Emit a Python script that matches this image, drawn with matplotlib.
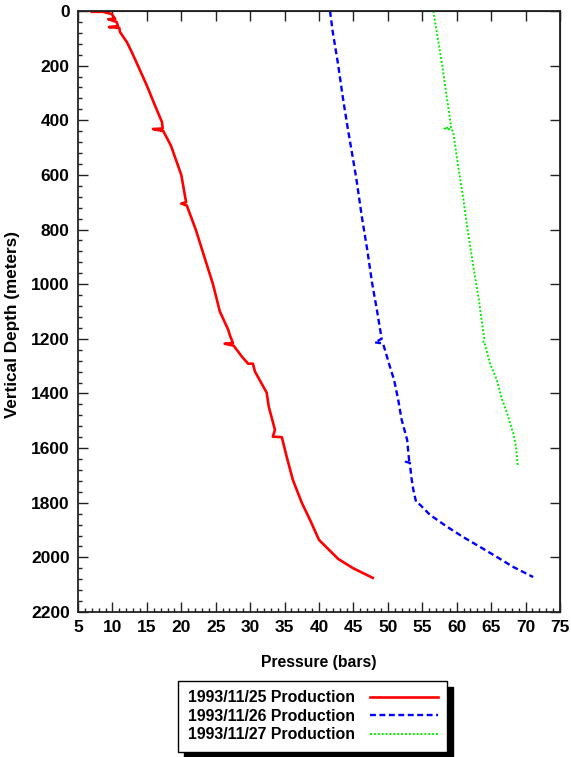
import matplotlib
matplotlib.use("Agg")
import matplotlib.pyplot as plt
from matplotlib.ticker import MultipleLocator

plt.rcParams['font.family'] = ['Liberation Sans', 'DejaVu Sans']
plt.rcParams['font.weight'] = 'bold'

# Series: pressure (bars) vs vertical depth (m)
red_p = [7.0, 8.6, 9.9, 10.4, 9.4, 10.6, 10.8, 9.5, 11.0, 11.1, 12.1, 12.8, 13.7, 15.0, 16.2, 17.2, 17.3, 15.9, 17.4,
         18.5, 20.0, 20.7, 20.0, 20.8, 22.1, 24.6, 25.6, 26.8, 27.1, 27.5, 26.3, 27.6, 28.8, 29.7, 30.4, 30.7,
         32.4, 32.7, 33.6, 33.3, 34.6, 35.3, 36.2, 37.5, 38.7, 40.0, 42.8, 44.9, 47.8]
red_d = [3, 3, 11, 29, 30, 40, 55, 59, 62, 77, 114, 150, 200, 273, 347, 407, 430, 432, 440,
         493, 600, 700, 705, 712, 800, 1000, 1100, 1166, 1190, 1215, 1218, 1225, 1265, 1291, 1291, 1320,
         1397, 1448, 1533, 1558, 1560, 1631, 1716, 1800, 1863, 1936, 2006, 2039, 2075]

blue_p = [41.6, 42.0, 42.8, 43.5, 44.2, 45.2, 45.5, 46.2, 47.0, 47.7, 48.4, 49.1, 48.1, 49.3, 50.3, 50.9,
          51.5, 52.0, 52.8, 53.1, 52.6, 53.2, 53.4, 53.7, 54.1, 54.7, 56.1, 58.6, 60.9, 63.4, 65.8, 68.2, 71.1]
blue_d = [0, 77, 200, 323, 433, 580, 627, 750, 873, 994, 1093, 1200, 1213, 1217, 1302, 1350,
          1423, 1496, 1570, 1648, 1650, 1654, 1705, 1753, 1797, 1808, 1844, 1888, 1925, 1962, 1998, 2035, 2072]

green_p = [56.6, 57.1, 57.9, 58.6, 59.2, 58.2, 59.3, 59.5, 60.2, 60.9, 61.5, 62.4, 63.2, 64.0, 63.8, 64.1,
           64.8, 65.8, 66.6, 67.3, 68.2, 68.6, 68.9]
green_d = [0, 77, 200, 323, 425, 430, 434, 444, 567, 677, 787, 933, 1055, 1200, 1215, 1220,
           1288, 1349, 1423, 1471, 1545, 1594, 1668]

labels = ['1993/11/25 Production', '1993/11/26 Production', '1993/11/27 Production']

fig = plt.figure(figsize=(5.71, 7.57), dpi=100)
ax = fig.add_axes([78/571, 1-612/757, (560-78)/571, (612-11)/757])

l1, = ax.plot(red_p, red_d, color='#ff0000', lw=1.9, ls='-', label=labels[0])
l2, = ax.plot(blue_p, blue_d, color='#0000ff', lw=1.7, ls=(0, (2.5, 1.5)), label=labels[1])
l3, = ax.plot(green_p, green_d, color='#00ee00', lw=1.4, ls=(0, (1, 1)), label=labels[2])

ax.set_xlim(5, 75)
ax.set_ylim(2200, 0)
ax.xaxis.set_major_locator(MultipleLocator(5))
ax.xaxis.set_minor_locator(MultipleLocator(1))
ax.yaxis.set_major_locator(MultipleLocator(200))
ax.yaxis.set_minor_locator(MultipleLocator(40))
ax.tick_params(which='both', direction='in', top=False, right=False, width=1.0, color='#222222')
ax.tick_params(which='major', length=7, labelsize=12.5, pad=6)
ax.tick_params(which='minor', length=3)
for s in ax.spines.values():
    s.set_linewidth(1.3)
    s.set_color('#222222')

# top / right ticks: majors only
tx = ax.secondary_xaxis('top')
tx.set_xticks(range(5, 76, 5))
tx.tick_params(direction='in', length=7, labeltop=False, width=1.0, color='#222222')
ry = ax.secondary_yaxis('right')
ry.set_yticks(range(0, 2201, 200))
ry.tick_params(direction='in', length=7, labelright=False, width=1.0, color='#222222')

for t in ax.get_xticklabels() + ax.get_yticklabels():
    t.set_fontweight('bold')

ax.set_xlabel('Pressure (bars)', fontsize=11.3, fontweight='bold', labelpad=14)
ax.set_ylabel('Vertical Depth (meters)', fontsize=12.3, fontweight='bold')
ax.yaxis.set_label_coords(-0.12, 0.478)

leg = fig.legend([l1, l2, l3], labels, loc='upper left',
                 bbox_to_anchor=(178/571, 1-681/757), borderaxespad=0,
                 markerfirst=False, handlelength=4.3, handletextpad=0.95,
                 labelspacing=0.22, borderpad=0.6, fancybox=False, frameon=True,
                 prop={'size': 11.4, 'weight': 'bold'},
                 shadow={'ox': 4, 'oy': -4, 'color': 'black', 'alpha': 1})
leg.get_frame().set_edgecolor('black')
leg.get_frame().set_linewidth(1.0)

fig.savefig('out.png', dpi=100)
